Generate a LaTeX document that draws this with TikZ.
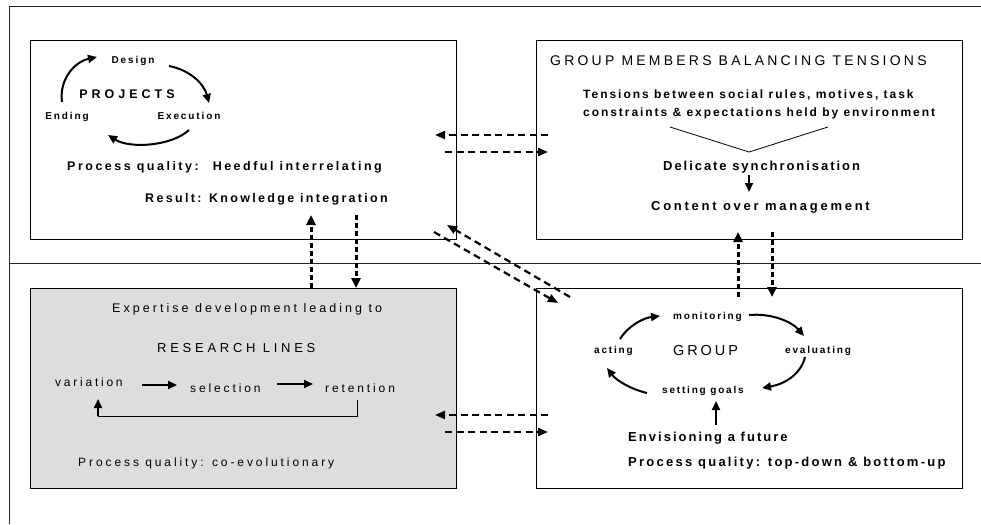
\documentclass[tikz,border=0pt]{standalone}
\usepackage{fontspec}
\setmainfont{Liberation Sans}
\usetikzlibrary{arrows.meta}
\definecolor{shade}{HTML}{DDDDDD}
% size, letter spacing
\newcommand\rg[2]{\mdseries\fontsize{#1}{#1}\selectfont\addfontfeatures{LetterSpace=#2}}
\newcommand\bd[2]{\bfseries\fontsize{#1}{#1}\selectfont\addfontfeatures{LetterSpace=#2}}
\tikzset{
  frame/.style={line width=1pt, draw=black!85},
  panel/.style={draw, line width=1.3pt, inner sep=0pt, anchor=north west},
  lbl/.style={inner sep=0pt, anchor=base west},
  lblc/.style={inner sep=0pt, anchor=base},
  cyc/.style={line width=2pt, -{Triangle[length=9pt,width=8pt]}},
  link/.style={line width=2.2pt, dash pattern=on 7pt off 4.5pt, -{Triangle[length=10pt,width=8pt]}},
  vlink/.style={line width=3pt, dash pattern=on 5pt off 3pt, -{Triangle[length=10pt,width=9pt]}},
}
\begin{document}
\begin{tikzpicture}[x=1pt, y=-1pt]
\useasboundingbox (0,0) rectangle (981,524);

% outer frame and separator
\coordinate (tl) at (9,7); \coordinate (tr) at (981,7);
\coordinate (bl) at (9,524);
\coordinate (ml) at (9,263); \coordinate (mr) at (981,263);
\draw[frame] (tr) -- (tl) -- (bl);
\draw[frame] (ml) -- (mr);

% the four panels
\node[panel, minimum width=426pt, minimum height=199pt] (projects) at (30,40) {};
\node[panel, minimum width=426pt, minimum height=199pt] (members) at (536,40) {};
\node[panel, fill=shade, minimum width=426pt, minimum height=200pt] (research) at (30,288) {};
\node[panel, minimum width=426pt, minimum height=200pt] (group) at (536,288) {};

% ---- PROJECTS panel
\node[lblc] (design) at (133,63.5) {\bd{10}{19}Design};
\node[lblc] (projtitle) at (127,98.3) {\bd{12.5}{32}PROJECTS};
\node[lblc] (ending) at (67,120) {\bd{10}{19}Ending};
\node[lblc] (execution) at (189,120) {\bd{10}{19}Execution};
\node[lbl] (heedful) at (67,170) {\bd{12.5}{20}Process quality:\hspace{14pt}Heedful interrelating};
\node[lbl] (integration) at (145,202) {\bd{12.5}{18.5}Result: Knowledge integration};
\coordinate (e1) at (62,102);  \coordinate (d1) at (97,57);
\coordinate (d2) at (169,66);  \coordinate (x1) at (209,103);
\coordinate (x2) at (189,130); \coordinate (e2) at (108,135);
\draw[cyc] (e1) .. controls (59,80) and (74,62) .. (d1);
\draw[cyc] (d2) .. controls (190,70) and (204,84) .. (x1);
\draw[cyc] (x2) .. controls (172,146) and (130,149) .. (e2);

% ---- GROUP MEMBERS panel
\node[lbl] (memtitle) at (550,66) {\rg{14}{23}GROUP MEMBERS BALANCING TENSIONS};
\node[lbl] (tens1) at (583,99) {\bd{12}{16.5}Tensions between social rules, motives, task};
\node[lbl] (tens2) at (583,116.5) {\bd{12}{16.2}constraints \& expectations held by environment};
\node[lbl] (sync) at (663,170) {\bd{13}{15}Delicate synchronisation};
\node[lbl] (content) at (651,210.7) {\bd{13}{21}Content over management};
\coordinate (v1) at (670,127); \coordinate (v2) at (749,152); \coordinate (v3) at (828,127);
\draw[line width=0.8pt] (v1) -- (v2) -- (v3);
\coordinate (s1) at (749,175); \coordinate (s2) at (749,192);
\draw[cyc] (s1) -- (s2);

% ---- RESEARCH LINES panel
\node[lbl] (expertise) at (112,312.3) {\rg{12.5}{24.3}Expertise development leading to};
\node[lbl] (lines) at (157,352.3) {\rg{13}{28.7}RESEARCH LINES};
\node[lbl] (variation) at (55,386) {\rg{12}{23}variation};
\node[lbl] (selection) at (190,392.7) {\rg{12}{24}selection};
\node[lbl] (retention) at (325,392.7) {\rg{12}{24}retention};
\node[lbl] (coevo) at (78,466.7) {\rg{12}{24.3}Process quality: co-evolutionary};
\coordinate (r1) at (142,385); \coordinate (r2) at (177,385);
\coordinate (r3) at (277,384); \coordinate (r4) at (313,384);
\draw[cyc] (r1) -- (r2);
\draw[cyc] (r3) -- (r4);
\coordinate (f1) at (357,400); \coordinate (f2) at (357,416);
\coordinate (f3) at (98,416);  \coordinate (f4) at (98,399);
\draw[line width=1pt] (f1) -- (f2) -- (f3);
\draw[cyc] (f3) -- (f4);

% ---- GROUP panel
\node[lbl] (monitoring) at (673,319.5) {\bd{10}{18}monitoring};
\node[lbl] (acting) at (594,353) {\bd{10}{18}acting};
\node[lbl] (grouptitle) at (673,355) {\rg{14.5}{20}GROUP};
\node[lbl] (evaluating) at (785,353) {\bd{10}{18}evaluating};
\node[lbl] (goals) at (662,393.3) {\bd{10}{18}setting goals};
\node[lbl] (future) at (628,441) {\bd{13}{15.6}Envisioning a future};
\node[lbl] (topdown) at (628,466.7) {\bd{13}{17.3}Process quality: top-down \& bottom-up};
\coordinate (g1) at (620,339); \coordinate (g2) at (660,316);
\coordinate (g3) at (749,315); \coordinate (g4) at (804,336);
\coordinate (g5) at (805,357); \coordinate (g6) at (762,388);
\coordinate (g7) at (647,393); \coordinate (g8) at (607,368);
\draw[cyc] (g1) .. controls (628,326) and (643,318) .. (g2);
\draw[cyc] (g3) .. controls (772,313) and (792,322) .. (g4);
\draw[cyc] (g5) .. controls (801,374) and (785,384) .. (g6);
\draw[cyc] (g7) .. controls (630,389) and (616,380) .. (g8);
\coordinate (u1) at (716,425); \coordinate (u2) at (716,401);
\draw[cyc] (u1) -- (u2);

% ---- links between panels
\coordinate (h1) at (548,135); \coordinate (h2) at (435,135);
\coordinate (h3) at (445,152); \coordinate (h4) at (548,152);
\draw[link] (h1) -- (h2);
\draw[link] (h3) -- (h4);
\coordinate (h5) at (548,415); \coordinate (h6) at (435,415);
\coordinate (h7) at (445,432); \coordinate (h8) at (548,432);
\draw[link] (h5) -- (h6);
\draw[link] (h7) -- (h8);
\coordinate (k1) at (311,288); \coordinate (k2) at (311,215);
\coordinate (k3) at (356,215); \coordinate (k4) at (356,288);
\draw[vlink] (k1) -- (k2);
\draw[vlink] (k3) -- (k4);
\coordinate (m1) at (738,297); \coordinate (m2) at (738,232);
\coordinate (m3) at (772,232); \coordinate (m4) at (772,297);
\draw[vlink] (m1) -- (m2);
\draw[vlink] (m3) -- (m4);
\coordinate (q1) at (570,297); \coordinate (q2) at (447,225);
\coordinate (q3) at (434,232); \coordinate (q4) at (558,303);
\draw[link] (q1) -- (q2);
\draw[link] (q3) -- (q4);
\end{tikzpicture}
\end{document}
